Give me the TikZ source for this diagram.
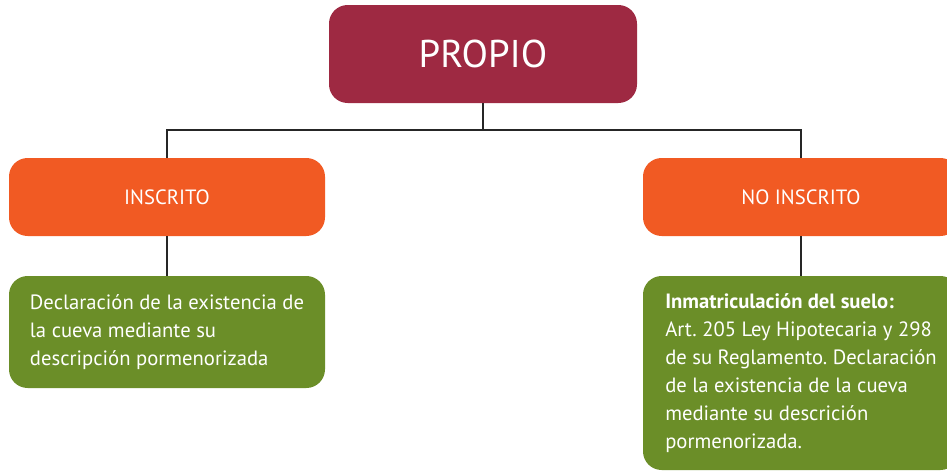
\documentclass[tikz,border=0pt]{standalone}
\usepackage{fontspec}
\setmainfont{PT Sans}
\usepackage{tikz}
\usetikzlibrary{positioning}
\frenchspacing

\definecolor{propiored}{RGB}{158,41,66}
\definecolor{ramaorange}{RGB}{241,90,35}
\definecolor{notagreen}{RGB}{107,142,40}

\begin{document}
\begin{tikzpicture}[%
  x=0.75pt, y=-0.75pt,
  caja/.style={rounded corners=14pt, text=white, inner sep=0pt},
  raiz/.style={caja, fill=propiored, minimum width=231pt, minimum height=73.5pt,
    font=\fontsize{29}{34}\selectfont},
  rama/.style={caja, fill=ramaorange, minimum width=237pt, minimum height=58.5pt,
    font=\fontsize{15.5}{21}\selectfont},
  nota/.style={caja, fill=notagreen, minimum width=237pt, align=left,
    font=\fontsize{15.5}{21}\selectfont},
  enlace/.style={draw=black!85, line width=1.1pt}]
  \clip (0,0) rectangle (947,475);
  \node[raiz] (propio) at (483,54) {PROPIO};
  \node[rama] (inscrito) at (167,197) {INSCRITO};
  \node[rama] (noinscrito) at (801,197) {NO INSCRITO};
  \node[nota, minimum height=84pt] (descripcion) at (167,332)
    {Declaración de la existencia de\\
     la cueva mediante su\\
     descripción pormenorizada};
  \node[nota, minimum height=145.5pt] (inmatriculacion) at (801,373)
    {\textbf{Inmatriculación del suelo:}\\
     Art. 205 Ley Hipotecaria y 298\\
     de su Reglamento. Declaración\\
     de la existencia de la cueva\\
     mediante su descrición\\
     pormenorizada.};
  \coordinate (reparto) at (483,130);
  \draw[enlace] (propio.south) -- (reparto);
  \draw[enlace] (inscrito.north) |- (reparto) -| (noinscrito.north);
  \draw[enlace] (inscrito.south) -- (descripcion.north);
  \draw[enlace] (noinscrito.south) -- (inmatriculacion.north);
\end{tikzpicture}
\end{document}
